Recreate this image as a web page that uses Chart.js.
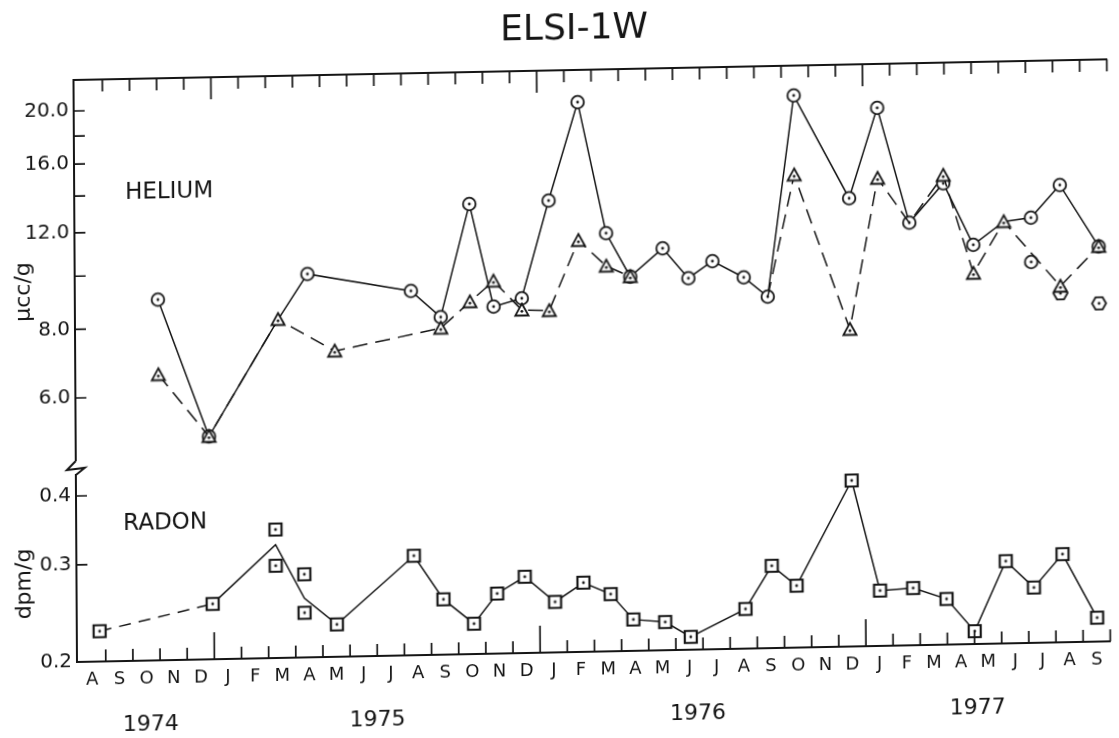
<!DOCTYPE html>
<html>
<head>
<meta charset="utf-8">
<title>ELSI-1W</title>
<script src="https://cdn.jsdelivr.net/npm/chart.js@4.4.1/dist/chart.umd.min.js"></script>
<style>
  html, body { margin: 0; padding: 0; background: #fff; }
  #wrap { width: 1119px; height: 738px; overflow: hidden; }
  /* the sheet sits a little askew, as on the printed page */
  #chart { display: block; transform-origin: 77px 662px; transform: matrix(1, -0.02, 0.006, 1, 0, 0); }
</style>
</head>
<body>
<div id="wrap"><canvas id="chart" width="1119" height="738"></canvas></div>
<script>
// time axis: months counted from 1 Aug 1974
const monthLetters = 'ASONDJFMAMJJASONDJFMAMJJASONDJFMAMJJAS'.split('');
const januaryAt = [5, 17, 29];
const yearLabels = ['1974', '1975', '1976', '1977'];
const yearLabelAt = [2.65, 11.0, 22.8, 33.1];

const heTicks = [6, 8, 10, 12, 14, 16, 18, 20];
const heLabelled = [6, 8, 12, 16, 20];
const rnTicks = [0.2, 0.3, 0.4];

// helium, first determination (circles, solid line)
const heCircleMonths = [3.0, 4.85, 7.42, 8.51, 12.32, 13.41, 14.49, 15.36, 16.4, 17.41, 18.5, 19.52, 20.4, 21.6,
  22.54, 23.43, 24.58, 25.46, 26.46, 28.48, 29.53, 30.69, 31.95, 33.04, 34.17, 35.17, 36.24, 37.66];
const heCircleValues = [9.0, 5.05, 8.2, 9.9, 9.14, 8.17, 13.1, 8.5, 8.78, 13.2, 19.9, 11.46, 9.53, 10.7,
  9.42, 10.1, 9.41, 8.66, 20.1, 13.0, 18.95, 11.67, 13.73, 10.58, 11.63, 11.8, 13.5, 10.4];

// helium, second determination (triangles, dashed line); null = no sample
const heTriangleMonths = [3.0, 4.85, 7.42, 9.5, 13.41, 14.49, 15.36, 16.4, 17.41, 18.5, 19.52, 20.4, 22.9,
  25.46, 26.46, 28.48, 29.53, 30.69, 31.95, 33.04, 34.17, 36.24, 37.66];
const heTriangleValues = [6.57, 5.05, 8.2, 7.15, 7.8, 8.69, 9.46, 8.36, 8.32, 11.14, 9.98, 9.53, null,
  8.66, 14.4, 7.5, 14.1, 11.67, 14.2, 9.39, 11.63, 8.83, 10.4];

// where both agree only one symbol is plotted
const circleOnlyAt = [25.46, 30.69];
const triangleOnlyAt = [7.42, 34.17];

// single extra samples
const heExtraCircleMonths = [35.17];
const heExtraCircleValues = [9.8];
const heHexagonMonths = [36.24, 37.66];
const heHexagonValues = [8.57, 8.19];

// radon (squares); the line runs through the mean where two samples were taken
const rnMonths = [0.78, 4.95, 7.28, 8.33, 9.52, 12.37, 13.45, 14.57, 15.43, 16.45, 17.56, 18.61, 19.61, 20.44,
  21.61, 22.55, 24.57, 25.55, 26.46, 28.51, 29.53, 30.75, 31.98, 33.01, 34.17, 35.2, 36.26, 37.52];
const rnValues = [0.227, 0.252, 0.321, 0.256, 0.229, 0.303, 0.252, 0.227, 0.257, 0.275, 0.247, 0.267, 0.254, 0.228,
  0.225, 0.211, 0.236, 0.282, 0.259, 0.400, 0.252, 0.254, 0.242, 0.211, 0.282, 0.252, 0.289, 0.221];
const rnPairMonths = [7.28, 7.28, 8.33, 8.33];
const rnPairValues = [0.342, 0.294, 0.283, 0.241];

const ink = '#151515';
const face = '"DejaVu Sans", "Liberation Sans", sans-serif';

function points(months, values) {
  return months.map((m, i) => ({ x: m, y: values[i] }));
}

// open symbols with a dot in the middle
function symbol(shape) {
  const c = document.createElement('canvas');
  c.width = c.height = 18;
  const g = c.getContext('2d');
  g.strokeStyle = ink;
  g.fillStyle = '#fff';
  g.lineWidth = shape === 'square' ? 2.2 : 1.8;
  g.beginPath();
  if (shape === 'circle') {
    g.arc(9, 9, 6.3, 0, Math.PI * 2);
  } else if (shape === 'square') {
    g.rect(3, 3, 12, 12);
  } else if (shape === 'triangle') {
    g.moveTo(9, 2.5); g.lineTo(15.6, 14.5); g.lineTo(2.4, 14.5); g.closePath();
  } else {
    for (let i = 0; i < 6; i++) {
      const a = i * Math.PI / 3;
      g.lineTo(9 + 7 * Math.cos(a), 9 + 7 * Math.sin(a));
    }
    g.closePath();
  }
  g.fill();
  g.stroke();
  g.beginPath();
  g.fillStyle = ink;
  g.arc(9, shape === 'triangle' ? 10.3 : 9, 1.4, 0, Math.PI * 2);
  g.fill();
  return c;
}

const circleMark = symbol('circle');
const triangleMark = symbol('triangle');
const squareMark = symbol('square');
const hexagonMark = symbol('hexagon');

const hideAt = list => ctx => (ctx.raw && list.includes(ctx.raw.x)) ? 0 : 7;

// inward tick marks and the break in the left axis
const innerTicks = {
  id: 'innerTicks',
  afterDraw(chart) {
    const { ctx, chartArea: area, scales } = chart;
    ctx.save();
    ctx.strokeStyle = ink;
    ctx.lineWidth = 1.7;
    ctx.beginPath();
    for (let k = 1; k <= monthLetters.length; k++) {
      const x = scales.x.getPixelForValue(k);
      const jan = januaryAt.includes(k);
      ctx.moveTo(x, area.bottom);
      ctx.lineTo(x, area.bottom - (jan ? 27 : 12));
      ctx.moveTo(x, area.top);
      ctx.lineTo(x, area.top + (jan ? 22 : 12));
    }
    ['yHe', 'yRn'].forEach(id => {
      const s = scales[id];
      s.ticks.forEach(t => {
        const y = s.getPixelForValue(t.value);
        if (y > s.bottom - 2) return;
        ctx.moveTo(s.right, y);
        ctx.lineTo(s.right + 11, y);
      });
    });
    ctx.stroke();

    const L = scales.yRn.right;
    const b = scales.yRn.top;
    ctx.fillStyle = '#fff';
    ctx.fillRect(L - 3, b - 9, 6, 13);
    ctx.lineWidth = 2;
    ctx.beginPath();
    ctx.moveTo(L, b - 9);
    ctx.lineTo(L - 9, b);
    ctx.lineTo(L + 9, b - 2);
    ctx.lineTo(L, b + 5);
    ctx.stroke();
    ctx.restore();
  }
};

const sheetText = {
  id: 'sheetText',
  afterDraw(chart) {
    const ctx = chart.ctx;
    ctx.save();
    ctx.fillStyle = ink;
    ctx.textAlign = 'center';
    ctx.textBaseline = 'middle';
    ctx.font = '36px ' + face;
    ctx.fillText('ELSI-1W', 578, 40);
    ctx.font = '23px ' + face;
    ctx.fillText('HELIUM', 172, 194);
    ctx.fillText('RADON', 166, 525);
    ctx.font = '22px ' + face;
    [['\u03bccc/g', 26, 291], ['dpm/g', 25, 583]].forEach(([t, x, y]) => {
      ctx.save();
      ctx.translate(x, y);
      ctx.rotate(-Math.PI / 2);
      ctx.fillText(t, 0, 0);
      ctx.restore();
    });
    ctx.restore();
  }
};

const noGrid = { drawOnChartArea: false, drawTicks: false };
const tMin = -0.06, tMax = 38;

new Chart(document.getElementById('chart'), {
  type: 'line',
  data: {
    datasets: [
      {
        label: 'Helium (triangles)',
        data: points(heTriangleMonths, heTriangleValues),
        xAxisID: 'x', yAxisID: 'yHe',
        borderColor: ink, borderWidth: 1.5, borderDash: [15, 8],
        pointStyle: triangleMark, pointRadius: hideAt(circleOnlyAt)
      },
      {
        label: 'Helium (circles)',
        data: points(heCircleMonths, heCircleValues),
        xAxisID: 'x', yAxisID: 'yHe',
        borderColor: ink, borderWidth: 1.5,
        pointStyle: circleMark, pointRadius: hideAt(triangleOnlyAt)
      },
      {
        label: 'Helium (single)',
        data: points(heExtraCircleMonths, heExtraCircleValues),
        xAxisID: 'x', yAxisID: 'yHe', showLine: false,
        pointStyle: circleMark, pointRadius: 7
      },
      {
        label: 'Helium (hexagons)',
        data: points(heHexagonMonths, heHexagonValues),
        xAxisID: 'x', yAxisID: 'yHe', showLine: false,
        pointStyle: hexagonMark, pointRadius: 7
      },
      {
        label: 'Radon',
        data: points(rnMonths, rnValues),
        xAxisID: 'x', yAxisID: 'yRn',
        borderColor: ink, borderWidth: 1.5,
        segment: { borderDash: ctx => ctx.p0DataIndex === 0 ? [12, 8] : undefined },
        pointStyle: squareMark, pointRadius: hideAt(rnPairMonths)
      },
      {
        label: 'Radon (duplicates)',
        data: points(rnPairMonths, rnPairValues),
        xAxisID: 'x', yAxisID: 'yRn', showLine: false,
        pointStyle: squareMark, pointRadius: 7
      }
    ]
  },
  options: {
    responsive: false,
    animation: false,
    devicePixelRatio: 1,
    events: [],
    layout: { padding: { left: 0, right: 1, top: 0, bottom: 0 } },
    elements: { line: { tension: 0 } },
    plugins: { legend: { display: false }, tooltip: { enabled: false }, title: { display: false } },
    scales: {
      x: {
        type: 'linear', position: 'bottom', min: tMin, max: tMax,
        afterBuildTicks: s => { s.ticks = monthLetters.map((_, i) => ({ value: i + 0.5 })); },
        afterFit: s => { s.height = 32; },
        ticks: {
          autoSkip: false, maxRotation: 0, padding: 8, color: ink,
          font: { family: face, size: 18 },
          callback: (v, i) => monthLetters[i]
        },
        grid: noGrid,
        border: { color: ink, width: 2 }
      },
      xTop: {
        type: 'linear', position: 'top', min: tMin, max: tMax,
        afterFit: s => { s.height = 80; },
        ticks: { display: false },
        grid: noGrid,
        border: { color: ink, width: 2 }
      },
      xYear: {
        type: 'linear', position: 'bottom', min: tMin, max: tMax,
        afterBuildTicks: s => { s.ticks = yearLabelAt.map(v => ({ value: v })); },
        afterFit: s => { s.height = 44; },
        ticks: {
          autoSkip: false, maxRotation: 0, padding: 19, color: ink,
          font: { family: face, size: 22 },
          callback: (v, i) => yearLabels[i]
        },
        grid: noGrid,
        border: { display: false }
      },
      // stacked panels: the one listed first is placed lowest
      yRn: {
        type: 'logarithmic', position: 'left', stack: 'panels', stackWeight: 192,
        min: 0.2, max: 0.4459,
        afterBuildTicks: s => { s.ticks = rnTicks.map(v => ({ value: v })); },
        afterFit: s => { s.width = 77; },
        ticks: {
          autoSkip: false, padding: 5, color: ink,
          font: { family: face, size: 20 },
          callback: v => v.toFixed(1)
        },
        grid: noGrid,
        border: { color: ink, width: 2 }
      },
      yHe: {
        type: 'logarithmic', position: 'left', stack: 'panels', stackWeight: 390,
        min: 4.436, max: 22.78,
        afterBuildTicks: s => { s.ticks = heTicks.map(v => ({ value: v })); },
        afterFit: s => { s.width = 77; },
        ticks: {
          autoSkip: false, padding: 5, color: ink,
          font: { family: face, size: 20 },
          callback: v => heLabelled.includes(v) ? v.toFixed(1) : ''
        },
        grid: noGrid,
        border: { color: ink, width: 2 }
      }
    }
  },
  plugins: [innerTicks, sheetText]
});
</script>
</body>
</html>
